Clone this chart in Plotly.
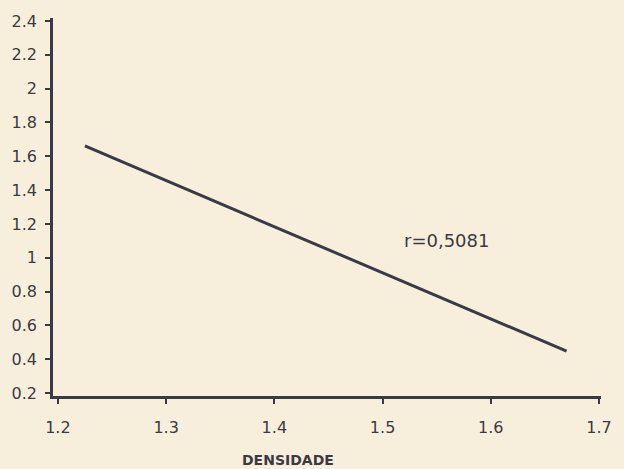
import plotly.graph_objects as go

# Data
densidade = [1.225, 1.670]
valores = [1.661, 0.447]
x_ticks = [1.2, 1.3, 1.4, 1.5, 1.6, 1.7]
x_ticklabels = ["1.2", "1.3", "1.4", "1.5", "1.6", "1.7"]
y_ticks = [0.2, 0.4, 0.6, 0.8, 1.0, 1.2, 1.4, 1.6, 1.8, 2.0, 2.2, 2.4]
y_ticklabels = ["0.2", "0.4", "0.6", "0.8", "1", "1.2", "1.4", "1.6", "1.8", "2", "2.2", "2.4"]
r_label = "r=0,5081"
r_pos = (1.559, 1.10)
x_title = "DENSIDADE"

ink = "#3a3a44"
bg = "#f8eedc"

fig = go.Figure()
fig.add_trace(go.Scatter(x=densidade, y=valores, mode="lines",
                         line=dict(color=ink, width=3), showlegend=False))

fig.add_annotation(x=r_pos[0], y=r_pos[1], text=r_label, showarrow=False,
                   font=dict(family="DejaVu Sans", size=18, color=ink))
fig.add_annotation(x=(292 - 52) / 560, y=-(461 - 396) / 381, xref="paper", yref="paper",
                   text="<b>" + x_title + "</b>", showarrow=False,
                   xanchor="center", yanchor="middle",
                   font=dict(family="DejaVu Sans", size=14, color=ink))

fig.update_layout(
    width=624, height=469,
    margin=dict(l=52, r=12, t=15, b=73),
    paper_bgcolor=bg, plot_bgcolor=bg,
    font=dict(family="DejaVu Sans", size=16, color=ink),
)
fig.update_xaxes(range=[1.1955, 1.7018], tickvals=x_ticks, ticktext=x_ticklabels,
                 showline=True, linecolor=ink, linewidth=2.5, showgrid=False, zeroline=False,
                 ticks="outside", ticklen=5, tickwidth=2, tickcolor=ink,
                 ticklabelstandoff=10)
fig.update_yaxes(range=[0.182, 2.418], tickvals=y_ticks, ticktext=y_ticklabels,
                 showline=True, linecolor=ink, linewidth=2.5, showgrid=False, zeroline=False,
                 ticks="outside", ticklen=5, tickwidth=2, tickcolor=ink,
                 ticklabelstandoff=5)

fig.write_html("out.html")
